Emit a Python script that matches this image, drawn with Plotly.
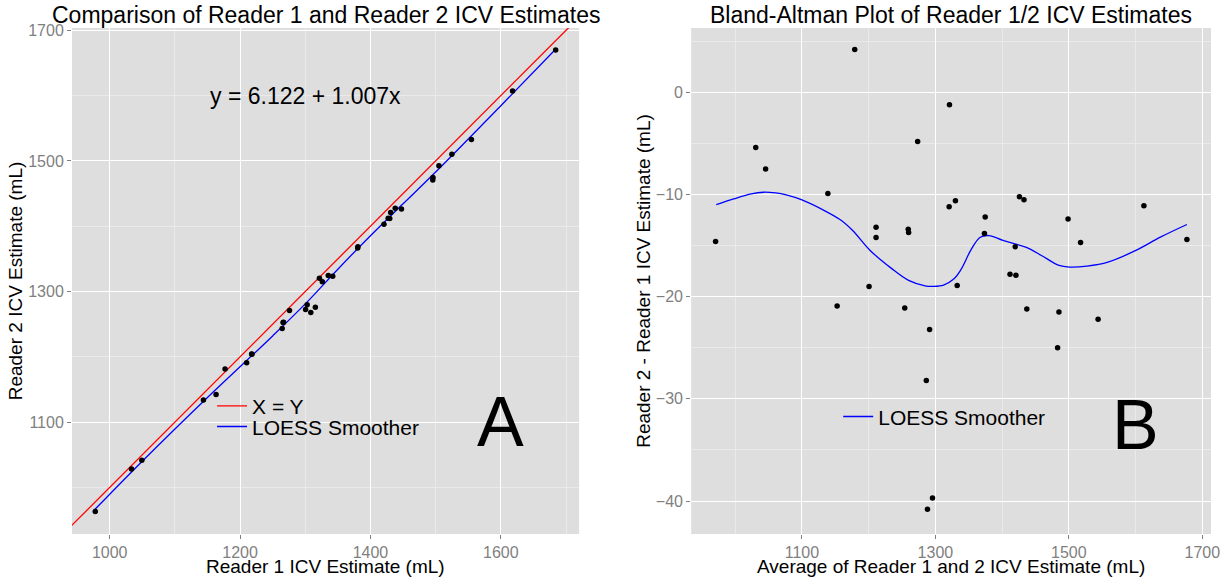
import plotly.graph_objects as go

# ---------------- data ----------------
reader1 = [977.9, 1033.5, 1049.3, 1143.8, 1177.0, 1217.7, 1218.2, 1210.1, 1266.0,
           1266.7, 1275.8, 1321.7, 1326.2, 1335.3, 1342.1, 1380.7, 1380.4, 1427.2,
           1431.0, 1438.0, 1420.7, 1429.6, 1505.0, 1524.9, 1618.0, 1684.1, 1163.2,
           1264.6, 1302.9, 1447.6, 1495.9, 1554.9, 1495.6, 1300.5, 1315.5, 1308.5]
reader2 = [963.3, 1028.1, 1041.8, 1133.9, 1181.2, 1204.5, 1204.0, 1191.1, 1252.6,
           1253.0, 1271.0, 1320.5, 1315.0, 1324.7, 1323.2, 1368.5, 1366.6, 1412.1,
           1420.8, 1427.5, 1402.9, 1411.7, 1492.6, 1510.2, 1606.9, 1669.7, 1142.3,
           1243.5, 1279.7, 1426.4, 1474.4, 1532.7, 1470.6, 1272.3, 1275.8, 1267.7]

# identity reference line (X = Y), drawn across the panel
identity_x = [900, 1750]
identity_y = [900, 1750]

# LOESS smoother, panel A (reader 2 vs reader 1)
loess_a_x = [976, 1050, 1150, 1250, 1300, 1350, 1400, 1450, 1500, 1600, 1684]
loess_a_y = [965, 1040.2, 1137.8, 1232, 1281, 1334.2, 1385.5, 1434.3, 1482.9, 1584.5, 1671]

# LOESS smoother, panel B (difference vs average)
loess_b_x = [971.6, 997.8, 1024, 1042.4, 1060.7, 1076.4, 1100, 1128.8, 1157.6, 1176,
             1202.2, 1233.6, 1259.8, 1286, 1296.5, 1312.2, 1327.9, 1338.4, 1354.1,
             1367.2, 1380.3, 1401.3, 1435.4, 1458.9, 1485.2, 1500.9, 1527.1, 1558.5,
             1600.4, 1637.1, 1676.9]
loess_b_y = [-10.98, -10.42, -9.93, -9.77, -9.84, -10.03, -10.52, -11.40, -12.47, -13.52,
             -15.47, -17.20, -18.40, -18.96, -18.99, -18.86, -18.24, -17.33, -15.31,
             -14.17, -14.01, -14.49, -15.15, -15.96, -16.94, -17.10, -17.00, -16.61,
             -15.47, -14.17, -12.93]

avg = [(a + b) / 2 for a, b in zip(reader1, reader2)]
diff = [b - a for a, b in zip(reader1, reader2)]

FONT = "Liberation Sans, Arial, Helvetica, sans-serif"
BG = "#DEDEDE"
MINOR = "#EAEAEA"
TICKC = "#7F7F7F"

W, H = 1231, 582
ML, MR, MT, MB = 72, 20.3, 28.3, 47.5
PW = W - ML - MR
PH = H - MT - MB


def px_x(p):
    return (p - ML) / PW


def px_y(p):
    return 1 - (p - MT) / PH


fig = go.Figure()

# Panel A
fig.add_trace(go.Scatter(x=identity_x, y=identity_y, mode="lines", name="X = Y",
                         line=dict(color="#FF0000", width=1.3), xaxis="x", yaxis="y",
                         legend="legend", hoverinfo="skip"))
fig.add_trace(go.Scatter(x=loess_a_x, y=loess_a_y, mode="lines", name="LOESS Smoother",
                         line=dict(color="#0000FF", width=1.3, shape="spline"),
                         xaxis="x", yaxis="y", legend="legend2"))
fig.add_trace(go.Scatter(x=reader1, y=reader2, mode="markers", showlegend=False,
                         marker=dict(color="black", size=5.5), xaxis="x", yaxis="y"))

# Panel B
fig.add_trace(go.Scatter(x=loess_b_x, y=loess_b_y, mode="lines", name="LOESS Smoother",
                         line=dict(color="#0000FF", width=1.3, shape="spline"),
                         xaxis="x2", yaxis="y2", legend="legend3"))
fig.add_trace(go.Scatter(x=avg, y=diff, mode="markers", showlegend=False,
                         marker=dict(color="black", size=5.5), xaxis="x2", yaxis="y2"))

axis_common = dict(showgrid=True, gridcolor="white", gridwidth=1.3, zeroline=False,
                   showline=False, ticks="outside", ticklen=4, tickcolor=TICKC,
                   tickwidth=1, tickfont=dict(family=FONT, size=16, color=TICKC),
                   automargin=False, tickmode="linear")

xa_dom = [0, px_x(579)]
xb_dom = [px_x(691), 1]

fig.update_layout(
    width=W, height=H,
    margin=dict(l=ML, r=MR, t=MT, b=MB),
    paper_bgcolor="white", plot_bgcolor=BG,
    font=dict(family=FONT, color="black"),
    xaxis=dict(domain=xa_dom, range=[942.2, 1720.1], tick0=1000, dtick=200,
               minor=dict(dtick=100, showgrid=True, gridcolor=MINOR, gridwidth=0.8, ticks=""),
               anchor="y", **axis_common),
    yaxis=dict(domain=[0, 1], range=[928.7, 1703.5], tick0=1100, dtick=200,
               minor=dict(dtick=100, showgrid=True, gridcolor=MINOR, gridwidth=0.8, ticks=""),
               title=dict(text="Reader 2 ICV Estimate (mL)", font=dict(size=19), standoff=0),
               anchor="x", **axis_common),
    xaxis2=dict(domain=xb_dom, range=[934.0, 1713.0], tick0=1100, dtick=200,
                minor=dict(dtick=100, showgrid=True, gridcolor=MINOR, gridwidth=0.8, ticks=""),
                anchor="y2", **axis_common),
    yaxis2=dict(domain=[0, 1], range=[-43.23, 6.31], tick0=0, dtick=10,
                minor=dict(dtick=5, showgrid=True, gridcolor=MINOR, gridwidth=0.8, ticks=""),
                title=dict(text="Reader 2 - Reader 1 ICV Estimate (mL)", font=dict(size=19), standoff=0),
                anchor="x2", **axis_common),
    legend=dict(x=px_x(212), y=px_y(406.7), xanchor="left", yanchor="middle",
                bgcolor="rgba(0,0,0,0)", font=dict(size=21, family=FONT)),
    legend2=dict(x=px_x(212), y=px_y(427.3), xanchor="left", yanchor="middle",
                 bgcolor="rgba(0,0,0,0)", font=dict(size=21, family=FONT)),
    legend3=dict(x=px_x(838), y=px_y(417.3), xanchor="left", yanchor="middle",
                 bgcolor="rgba(0,0,0,0)", font=dict(size=21, family=FONT)),
    showlegend=True,
)

annotations = [
    dict(text="Comparison of Reader 1 and Reader 2 ICV Estimates", xref="paper", yref="paper",
         x=(xa_dom[0] + xa_dom[1]) / 2, y=px_y(15), xanchor="center", yanchor="middle",
         showarrow=False, font=dict(size=23, family=FONT, color="black")),
    dict(text="Bland-Altman Plot of Reader 1/2 ICV Estimates", xref="paper", yref="paper",
         x=(xb_dom[0] + xb_dom[1]) / 2, y=px_y(15), xanchor="center", yanchor="middle",
         showarrow=False, font=dict(size=23, family=FONT, color="black")),
    # x-axis titles
    dict(text="Reader 1 ICV Estimate (mL)", xref="paper", yref="paper",
         x=(xa_dom[0] + xa_dom[1]) / 2, y=px_y(567.5), xanchor="center", yanchor="middle",
         showarrow=False, font=dict(size=19, family=FONT, color="black")),
    dict(text="Average of Reader 1 and 2 ICV Estimate (mL)", xref="paper", yref="paper",
         x=(xb_dom[0] + xb_dom[1]) / 2, y=px_y(567.5), xanchor="center", yanchor="middle",
         showarrow=False, font=dict(size=19, family=FONT, color="black")),
    dict(text="y = 6.122 + 1.007x", xref="x", yref="y", x=1300, y=1600,
         xanchor="center", yanchor="middle", showarrow=False,
         font=dict(size=23, family=FONT, color="black")),
    dict(text="A", xref="x", yref="y", x=1600, y=1100, xanchor="center", yanchor="middle",
         showarrow=False, font=dict(size=70, family=FONT, color="black")),
    dict(text="B", xref="x2", yref="y2", x=1600, y=-32.6, xanchor="center", yanchor="middle",
         showarrow=False, font=dict(size=70, family=FONT, color="black")),
]
fig.update_layout(annotations=annotations)

# remove the default page margin so the 1231x582 figure fills the window exactly
fig.write_html("out.html", config={"displayModeBar": False},
               post_script="document.body.style.margin='0';document.body.style.overflow='hidden';")
